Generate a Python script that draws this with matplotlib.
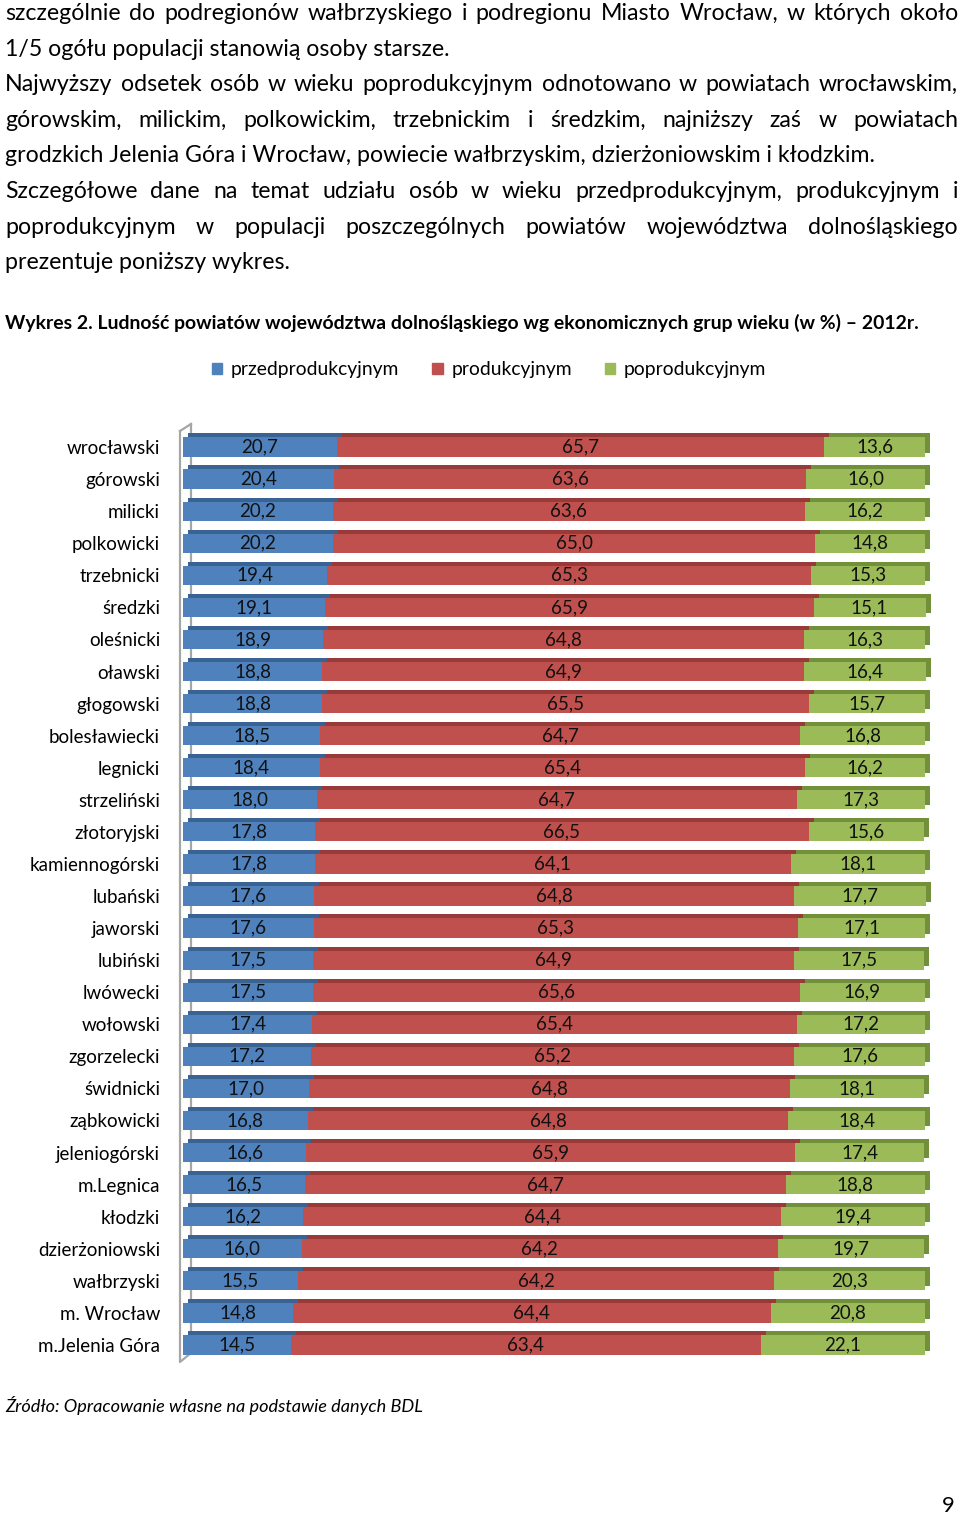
import matplotlib
matplotlib.use("Agg")
import matplotlib.pyplot as plt
from matplotlib.patches import Patch
from matplotlib.transforms import ScaledTranslation

plt.rcParams["font.family"] = ["Lato", "DejaVu Sans"]

POWIATY = ["wrocławski", "górowski", "milicki", "polkowicki", "trzebnicki", "średzki",
           "oleśnicki", "oławski", "głogowski", "bolesławiecki", "legnicki", "strzeliński",
           "złotoryjski", "kamiennogórski", "lubański", "jaworski", "lubiński", "lwówecki",
           "wołowski", "zgorzelecki", "świdnicki", "ząbkowicki", "jeleniogórski", "m.Legnica",
           "kłodzki", "dzierżoniowski", "wałbrzyski", "m. Wrocław", "m.Jelenia Góra"]
PRZED = [20.7, 20.4, 20.2, 20.2, 19.4, 19.1, 18.9, 18.8, 18.8, 18.5, 18.4, 18.0, 17.8, 17.8,
         17.6, 17.6, 17.5, 17.5, 17.4, 17.2, 17.0, 16.8, 16.6, 16.5, 16.2, 16.0, 15.5, 14.8, 14.5]
PROD = [65.7, 63.6, 63.6, 65.0, 65.3, 65.9, 64.8, 64.9, 65.5, 64.7, 65.4, 64.7, 66.5, 64.1,
        64.8, 65.3, 64.9, 65.6, 65.4, 65.2, 64.8, 64.8, 65.9, 64.7, 64.4, 64.2, 64.2, 64.4, 63.4]
POPROD = [13.6, 16.0, 16.2, 14.8, 15.3, 15.1, 16.3, 16.4, 15.7, 16.8, 16.2, 17.3, 15.6, 18.1,
          17.7, 17.1, 17.5, 16.9, 17.2, 17.6, 18.1, 18.4, 17.4, 18.8, 19.4, 19.7, 20.3, 20.8, 22.1]
SERIES = ["przedprodukcyjnym", "produkcyjnym", "poprodukcyjnym"]

FRONT = ["#4f81bd", "#c0504d", "#9bbb59"]
TOP = ["#3a6293", "#983a38", "#72903a"]

PARAGRAPH = [
    ("szczególnie do podregionów wałbrzyskiego i podregionu Miasto Wrocław, w których około", True),
    ("1/5 ogółu populacji stanowią osoby starsze.", False),
    ("Najwyższy odsetek osób w wieku poprodukcyjnym odnotowano w powiatach wrocławskim,", True),
    ("górowskim, milickim, polkowickim, trzebnickim i średzkim, najniższy zaś w powiatach", True),
    ("grodzkich Jelenia Góra i Wrocław, powiecie wałbrzyskim, dzierżoniowskim i kłodzkim.", False),
    ("Szczegółowe dane na temat udziału osób w wieku przedprodukcyjnym, produkcyjnym i", True),
    ("poprodukcyjnym w populacji poszczególnych powiatów województwa dolnośląskiego", True),
    ("prezentuje poniższy wykres.", False),
]
TITLE = "Wykres 2. Ludność powiatów województwa dolnośląskiego wg ekonomicznych grup wieku (w %) – 2012r."
SOURCE = "Źródło: Opracowanie własne na podstawie danych BDL"

W, H = 960, 1515
fig = plt.figure(figsize=(W / 100, H / 100), dpi=100)
R = fig.canvas.get_renderer()


def size_for(s, width, base=14, **kw):
    t = fig.text(0, 0, s, fontsize=base, **kw)
    w = t.get_window_extent(R).width
    t.remove()
    return base * width / w


def place(s, x, y, size, **kw):
    return fig.text(x / W, 1 - y / H, s, fontsize=size, va="baseline", **kw)


# --- body text above the chart
psize = size_for(PARAGRAPH[4][0], 875)
for k, (line, just) in enumerate(PARAGRAPH):
    y = 20 + 35.6 * k
    if not just:
        place(line, 5, y, psize)
        continue
    ts = [place(w, 0, y, psize) for w in line.split()]
    ws = [t.get_window_extent(R).width for t in ts]
    gap = (958 - 5 - sum(ws)) / (len(ts) - 1)
    x = 5
    for t, w in zip(ts, ws):
        t.set_x(x / W)
        x += w + gap

tsize = size_for(TITLE, 920, weight="bold")
place(TITLE, 5, 329, tsize, weight="bold")
place(SOURCE, 5, 1412, size_for(SOURCE, 420, style="italic"), style="italic")
place("9", 955, 1512, psize * 0.95, ha="right")

# --- chart
ax = fig.add_axes([183 / W, (H - 1361) / H, 742 / W, 930 / H])
n = len(POWIATY)
rows = list(range(n))
vals = [PRZED, PROD, POPROD]
lsize = size_for("20,7", 37)
shift = ax.transData + ScaledTranslation(0.05, 0.04, fig.dpi_scale_trans)

left = [0.0] * n
for v, fc, tc in zip(vals, FRONT, TOP):
    ax.barh(rows, v, left=left, height=0.6, color=tc, transform=shift, zorder=1, clip_on=False)
    bars = ax.barh(rows, v, left=left, height=0.6, color=fc, zorder=2, clip_on=False)
    ax.bar_label(bars, labels=[f"{x:.1f}".replace(".", ",") for x in v],
                 label_type="center", fontsize=lsize, color="#111111", zorder=3)
    left = [a + b for a, b in zip(left, v)]

ax.set_xlim(0, 100)
ax.set_ylim(n - 0.5, -0.5)
ax.set_yticks(rows)
ax.set_yticklabels(POWIATY, fontsize=size_for("wrocławski", 94))
ax.tick_params(axis="y", length=0, pad=16.5)
ax.set_xticks([])
for s in ax.spines.values():
    s.set_visible(False)

# back wall of the 3-D plot area
wall = dict(color="#a6a6a6", lw=1.6, transform=ax.transAxes, clip_on=False, zorder=0)
ax.plot([-3 / 742, -3 / 742, 8 / 742, 8 / 742], [1, -1 / 930, 8 / 930, 1 + 7 / 930], **wall)
ax.plot([-3 / 742, 8 / 742], [1, 1 + 7 / 930], **wall)

gsize = size_for("przedprodukcyjnym", 169)
fig.legend([Patch(color=c) for c in FRONT], SERIES, loc="center", ncol=3,
           bbox_to_anchor=(489 / W, 1 - 370 / H), frameon=False, fontsize=gsize,
           handlelength=0.55, handleheight=0.55, handletextpad=0.45, columnspacing=1.7)

fig.savefig("out.png", dpi=100)
